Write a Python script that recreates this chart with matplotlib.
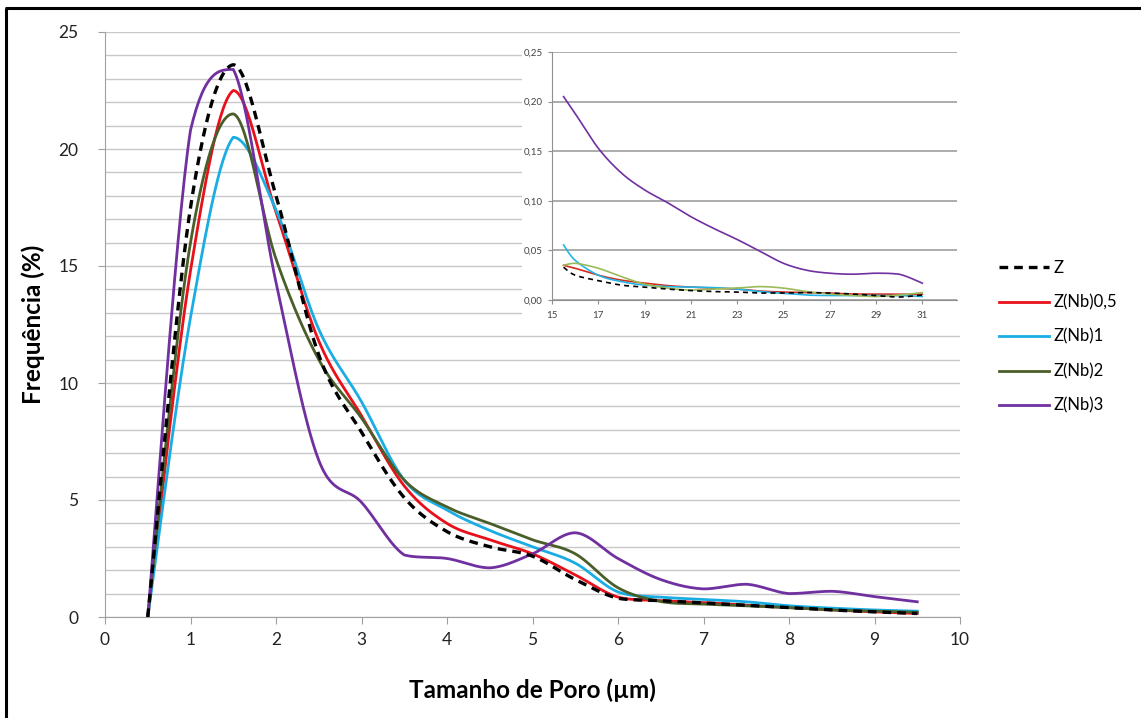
import numpy as np
import matplotlib
matplotlib.use("Agg")
import matplotlib.pyplot as plt
from matplotlib.lines import Line2D

plt.rcParams['font.family'] = ['Lato', 'DejaVu Sans']

# ---------------- data ----------------
x_main = [0.5, 1.0, 1.5, 2.0, 2.5, 3.0, 3.5, 4.0, 4.5, 5.0, 5.5, 6.0, 6.5, 7.0, 7.5, 8.0, 8.5, 9.0, 9.5]
z_vals = [0, 17.5, 23.6, 18.0, 11.2, 7.9, 5.1, 3.65, 3.0, 2.6, 1.6, 0.8, 0.7, 0.6, 0.5, 0.4, 0.3, 0.22, 0.15]
nb05_vals = [0, 14.8, 22.5, 17.3, 11.8, 8.6, 5.6, 4.0, 3.3, 2.7, 1.8, 0.85, 0.7, 0.62, 0.5, 0.4, 0.3, 0.22, 0.15]
nb1_vals = [0, 12.8, 20.5, 17.4, 12.3, 9.2, 5.85, 4.57, 3.7, 3.0, 2.3, 1.07, 0.85, 0.75, 0.65, 0.48, 0.38, 0.3, 0.25]
nb2_vals = [0, 16.0, 21.5, 15.3, 11.0, 8.5, 5.85, 4.7, 4.0, 3.3, 2.7, 1.25, 0.66, 0.55, 0.48, 0.4, 0.3, 0.25, 0.2]
nb3_vals = [0, 20.8, 23.4, 14.3, 6.7, 4.9, 2.65, 2.5, 2.1, 2.7, 3.6, 2.5, 1.6, 1.2, 1.4, 1.0, 1.1, 0.87, 0.65]

x_inset = [15.5, 16, 17, 18, 19, 20, 21, 22, 23, 24, 25, 26, 27, 28, 29, 30, 31]
z_in = [0.033, 0.025, 0.0195, 0.015, 0.013, 0.011, 0.0095, 0.0085, 0.008, 0.007, 0.007, 0.0075, 0.007, 0.006, 0.0045, 0.003, 0.005]
nb05_in = [0.035, 0.032, 0.025, 0.020, 0.017, 0.0145, 0.013, 0.012, 0.011, 0.009, 0.008, 0.0075, 0.007, 0.006, 0.006, 0.0058, 0.0058]
nb1_in = [0.0555, 0.040, 0.025, 0.0185, 0.015, 0.0135, 0.013, 0.0125, 0.011, 0.0085, 0.0067, 0.005, 0.0045, 0.0045, 0.0045, 0.0045, 0.0035]
nb2_in = [0.035, 0.037, 0.032, 0.0235, 0.016, 0.012, 0.010, 0.011, 0.012, 0.0135, 0.012, 0.0085, 0.006, 0.0045, 0.0035, 0.005, 0.0075]
nb3_in = [0.205, 0.188, 0.153, 0.128, 0.111, 0.098, 0.084, 0.072, 0.061, 0.049, 0.037, 0.030, 0.027, 0.026, 0.027, 0.026, 0.017]

labels = ['Z', 'Z(Nb)0,5', 'Z(Nb)1', 'Z(Nb)2', 'Z(Nb)3']
main_colors = ['#000000', '#E8101A', '#1AADE4', '#4A5E2A', '#7030A0']
inset_colors = ['#000000', '#D42A1E', '#22B5E6', '#9BBB59', '#7030A0']

main_ticks_x = list(range(0, 11))
main_ticks_y = [0, 5, 10, 15, 20, 25]
inset_ticks_x = [15, 17, 19, 21, 23, 25, 27, 29, 31]
inset_ticks_y = [0.0, 0.05, 0.10, 0.15, 0.20, 0.25]


def smooth(xs, ys, n=30):
    """Excel-like smoothing: cubic Bezier segments with Catmull-Rom control points,
    control heights kept within each segment's range to avoid overshoot."""
    P = np.column_stack([xs, ys]).astype(float)
    m = len(P)
    out = []
    for i in range(m - 1):
        p0 = P[i - 1] if i > 0 else P[i]
        p1 = P[i]
        p2 = P[i + 1]
        p3 = P[i + 2] if i + 2 < m else P[i + 1]
        c1 = p1 + (p2 - p0) / 6.0
        c2 = p2 - (p3 - p1) / 6.0
        lo, hi = min(p1[1], p2[1]), max(p1[1], p2[1])
        c1[1] = min(max(c1[1], lo), hi)
        c2[1] = min(max(c2[1], lo), hi)
        t = np.linspace(0, 1, n, endpoint=(i == m - 2))[:, None]
        seg = ((1 - t) ** 3) * p1 + 3 * ((1 - t) ** 2) * t * c1 + 3 * (1 - t) * t ** 2 * c2 + t ** 3 * p2
        out.append(seg)
    out = np.vstack(out)
    return out[:, 0], out[:, 1]


W, H = 1141, 718
fig = plt.figure(figsize=(W / 100, H / 100), dpi=100)

# ---------------- main axes ----------------
ax = fig.add_axes([105 / W, 1 - 617 / H, (960 - 105) / W, (617 - 32) / H])
ax.set_xlim(0, 10)
ax.set_ylim(0, 25)
ax.set_yticks(main_ticks_y)
ax.set_xticks(main_ticks_x)
ax.set_yticks(np.arange(0, 26, 1), minor=True)
ax.grid(True, which='both', axis='y', color='#C8C8C8', linewidth=1.0)
ax.tick_params(axis='y', which='minor', length=0)
ax.tick_params(axis='both', which='major', direction='out', length=5, color='#A0A0A0',
               labelsize=12.5, labelcolor='#222222')
ax.tick_params(axis='y', pad=14)
ax.tick_params(axis='x', pad=6)
for s in ['top', 'right']:
    ax.spines[s].set_visible(False)
for s in ['left', 'bottom']:
    ax.spines[s].set_color('#A0A0A0')
ax.set_axisbelow(True)

series = [z_vals, nb05_vals, nb1_vals, nb2_vals, nb3_vals]
handles = []
for vals, col, lab in zip(series, main_colors, labels):
    sx, sy = smooth(x_main, vals)
    if lab == 'Z':
        ln, = ax.plot(sx, sy, color=col, lw=2.4, ls=(0, (2.6, 1.8)), label=lab, zorder=6)
    else:
        ln, = ax.plot(sx, sy, color=col, lw=2.0, label=lab, zorder=3)
    handles.append(ln)

ax.set_xlabel('Tamanho de Poro (µm)', fontsize=17.5, fontweight='bold', labelpad=22)
ax.set_ylabel('Frequência (%)', fontsize=17.5, fontweight='bold', labelpad=10)

# ---------------- white box behind inset ----------------
bg = fig.add_axes([522 / W, 1 - 326 / H, (962 - 522) / W, (326 - 36) / H])
bg.set_facecolor('white')
bg.set_xticks([])
bg.set_yticks([])
for s in bg.spines.values():
    s.set_visible(False)

# ---------------- inset axes ----------------
ins = fig.add_axes([552 / W, 1 - 300 / H, (957 - 552) / W, (300 - 52) / H])
ins.set_xlim(15, 32.5)
ins.set_ylim(0, 0.25)
ins.set_xticks(inset_ticks_x)
ins.set_yticks(inset_ticks_y)
ins.set_yticklabels([f'{v:.2f}'.replace('.', ',') for v in inset_ticks_y])
ins.grid(True, axis='y', color='#A6A6A6', linewidth=1.3)
ins.set_axisbelow(True)
ins.tick_params(axis='both', direction='out', length=3, color='#909090', labelsize=7,
                labelcolor='#444444')
ins.tick_params(axis='x', pad=5)
for s in ['top', 'right']:
    ins.spines[s].set_visible(False)
for s in ['left', 'bottom']:
    ins.spines[s].set_color('#909090')

inset_series = [z_in, nb05_in, nb1_in, nb2_in, nb3_in]
for vals, col, lab in zip(inset_series, inset_colors, labels):
    sx, sy = smooth(x_inset, vals)
    if lab == 'Z':
        ins.plot(sx, sy, color=col, lw=1.2, ls=(0, (3, 2.5)), zorder=5)
    else:
        ins.plot(sx, sy, color=col, lw=1.2, zorder=3)

# ---------------- legend ----------------
fig.legend(handles=handles, labels=labels, loc='upper left',
           bbox_to_anchor=(999 / W, 1 - 260 / H), frameon=False, fontsize=12,
           handlelength=3.0, handletextpad=0.3, labelspacing=1.1, borderpad=0,
           borderaxespad=0)

# ---------------- outer frame ----------------
fig.add_artist(Line2D([6 / W, 6 / W], [0, 1 - 8 / H], transform=fig.transFigure,
                      color='black', lw=2.2, solid_capstyle='butt'))
fig.add_artist(Line2D([5 / W, 1], [1 - 8 / H, 1 - 8 / H], transform=fig.transFigure,
                      color='black', lw=2.2, solid_capstyle='butt'))

fig.savefig('out.png', dpi=100)
